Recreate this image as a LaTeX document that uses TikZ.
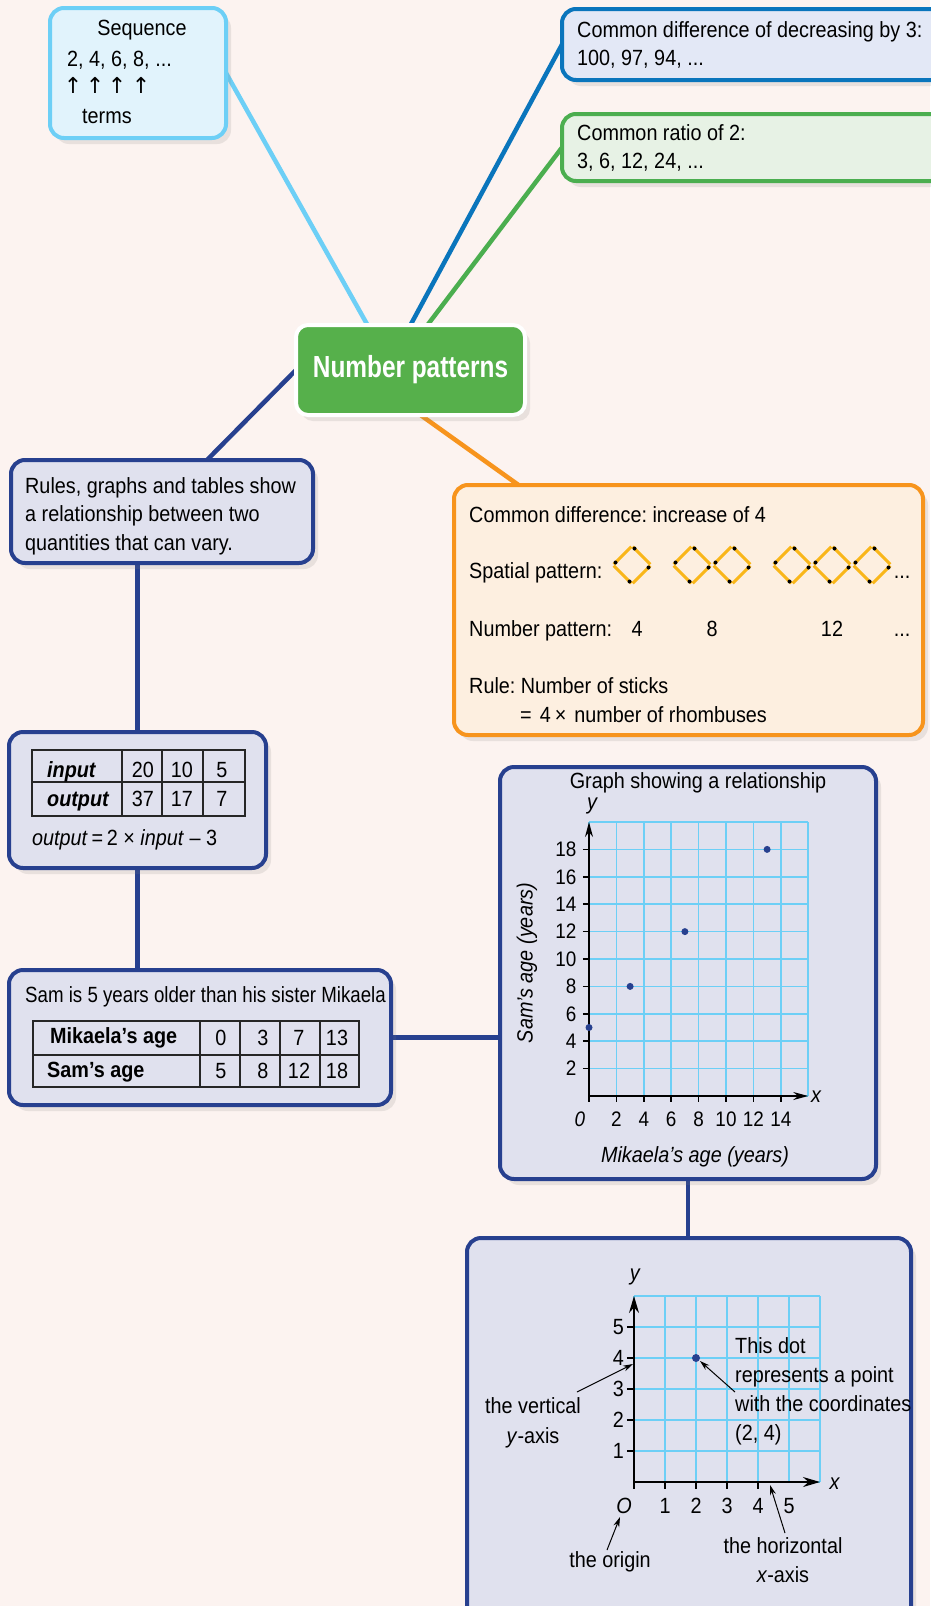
\documentclass[tikz,border=0pt]{standalone}
\usepackage{fontspec}
\setmainfont{Liberation Sans}[FakeStretch=0.9]
\newfontfamily\hubfont{Liberation Sans}[FakeStretch=0.8]
\newfontfamily\arrowfont{DejaVu Sans}
\usetikzlibrary{arrows.meta,positioning,calc,shadows,backgrounds}
\newcommand{\basefont}{\fontsize{22}{28}\selectfont}
\newcommand{\tickfont}{\fontsize{21}{24}\selectfont}
\frenchspacing

\definecolor{bgpink}{HTML}{FCF3F0}
\definecolor{seqblue}{HTML}{6DCFF6}
\definecolor{seqfill}{HTML}{E1F3FC}
\definecolor{diffblue}{HTML}{0A75BC}
\definecolor{difffill}{HTML}{E3E8F6}
\definecolor{ratiogreen}{HTML}{4BAE4F}
\definecolor{ratiofill}{HTML}{E7F2E5}
\definecolor{hubgreen}{HTML}{56B04B}
\definecolor{navy}{HTML}{27408F}
\definecolor{navyfill}{HTML}{E0E1EE}
\definecolor{orange}{HTML}{F7941D}
\definecolor{orangefill}{HTML}{FDEFE0}
\definecolor{stickyellow}{HTML}{F9B61A}

\begin{document}
\begin{tikzpicture}[
  x=1pt, y=-1pt,
  font=\basefont,
  panel/.style={draw, line width=4pt, rounded corners=14pt, anchor=north west,
                inner sep=0pt, outer sep=0pt,
                drop shadow={opacity=0.16, shadow xshift=5pt, shadow yshift=-6pt}},
  hub/.style={fill=hubgreen, draw=white, line width=4pt, rounded corners=12pt,
              minimum width=229pt, minimum height=90pt, outer sep=0pt, text=white,
              font=\hubfont\bfseries\fontsize{30.5}{36}\selectfont,
              drop shadow={opacity=0.16, shadow xshift=5pt, shadow yshift=-6pt}},
  txt/.style={anchor=base west, inner sep=0pt},
  ctxt/.style={anchor=base, inner sep=0pt},
  link/.style={line width=4.5pt},
  tbl/.style={line width=1.2pt, black!85},
  stick/.style={stickyellow, line width=3pt, shorten <=1pt, shorten >=1pt},
  gridline/.style={seqblue, line width=1.6pt},
  axis/.style={black, line width=1.5pt},
  tick/.style={black, line width=1.5pt},
  note/.style={-{Stealth[length=10pt,width=6pt]}, line width=1pt}
]
\useasboundingbox (0,0) rectangle (930,1606);
\begin{scope}[on background layer]
  \fill[bgpink] (0,0) rectangle (930,1606);
\end{scope}

% boxes
\node[panel, draw=seqblue, fill=seqfill, minimum width=176pt, minimum height=130pt] (seq) at (50,8) {};
\node[panel, draw=diffblue, fill=difffill, minimum width=390pt, minimum height=71pt] (diff) at (562,9) {};
\node[panel, draw=ratiogreen, fill=ratiofill, minimum width=390pt, minimum height=67pt] (ratio) at (562,114) {};
\node[hub] (hub) at (410.5,370) {Number patterns};
\node[panel, draw=navy, fill=navyfill, minimum width=302pt, minimum height=103pt] (rules) at (11,460) {};
\node[panel, draw=orange, fill=orangefill, minimum width=469pt, minimum height=250pt] (sticks) at (454,485) {};
\node[panel, draw=navy, fill=navyfill, minimum width=257pt, minimum height=136pt] (io) at (9,732) {};
\node[panel, draw=navy, fill=navyfill, minimum width=382pt, minimum height=135pt] (sam) at (9,970) {};
\node[panel, draw=navy, fill=navyfill, minimum width=376pt, minimum height=412pt] (graph) at (500,767) {};
\node[panel, draw=navy, fill=navyfill, minimum width=444pt, minimum height=420pt] (axes) at (467,1238) {};

% connectors
\begin{scope}[on background layer]
  \draw[link, seqblue] (seq.east) -- ([xshift=-43pt]hub.north);
  \draw[link, diffblue] (diff.west) -- (hub.north);
  \draw[link, ratiogreen] (ratio.west) -- ([xshift=17pt]hub.north);
  \draw[link, navy] (hub.west) -- ([xshift=45pt]rules.north);
  \draw[link, orange] ([xshift=10pt]hub.south) -- ([xshift=-170pt]sticks.north);
  \draw[link, navy] (io.north |- rules.south) -- (io.north);
  \draw[link, navy] (io.south) -- (io.south |- sam.north);
  \draw[link, navy] (sam.east) -- (sam.east -| graph.west);
  \draw[link, navy] (graph.south) -- (graph.south |- axes.north);
\end{scope}

% sequence
\node[ctxt] (seqtitle) at (142,35) {Sequence};
\node[txt] (seqnums) at (67,66) {2, 4, 6, 8, ...};
\foreach \ax [count=\i] in {73,95,117,141}
  \node[ctxt, font=\arrowfont\fontsize{22}{26}\selectfont] (up\i) at (\ax,93) {↑};
\node[txt] (terms) at (82,123) {terms};

% differences and ratio
\node[txt] (diff1) at (577,37) {Common difference of decreasing by 3:};
\node[txt] (diff2) at (577,65) {100, 97, 94, ...};
\node[txt] (ratio1) at (577,140) {Common ratio of 2:};
\node[txt] (ratio2) at (577,168) {3, 6, 12, 24, ...};

% rules
\node[txt] (rules1) at (25,493) {Rules, graphs and tables show};
\node[txt] (rules2) at (25,521) {a relationship between two};
\node[txt] (rules3) at (25,550) {quantities that can vary.};

% sticks
\node[txt] (common) at (469,522) {Common difference: increase of 4};
\node[txt] (spatial) at (469,578) {Spatial pattern:};
\foreach \cx in {632,692,732,792,832,872}{
  \draw[stick] (\cx,546) -- (\cx+19,565);
  \draw[stick] (\cx+19,565) -- (\cx,584);
  \draw[stick] (\cx,584) -- (\cx-19,565);
  \draw[stick] (\cx-19,565) -- (\cx,546);
  \fill (\cx+2.5,548.5) circle (2pt) (\cx+16.5,567.5) circle (2pt)
        (\cx-2.5,581.5) circle (2pt) (\cx-16.5,562.5) circle (2pt);
}
\node[ctxt] (spdots) at (902,578) {...};
\node[txt] (numpat) at (469,636) {Number pattern:};
\foreach \nx/\nv [count=\i] in {637/4,712/8,832/12}
  \node[ctxt] (np\i) at (\nx,636) {\nv};
\node[ctxt] (npdots) at (902,636) {...};
\node[txt] (rule1) at (469,693) {Rule: Number of sticks};
\node[txt] (rule2) at (520,722) {=\hspace{8pt}4\hspace{4pt}×\hspace{8pt}number of rhombuses};

% input output table
\draw[tbl] (32,750) rectangle (245,816);
\draw[tbl] (32,782) -- (245,782);
\foreach \tx in {122,162,203} \draw[tbl] (\tx,750) -- (\tx,816);
\node[txt, font=\basefont\bfseries\itshape] (inlbl) at (47,777) {input};
\node[txt, font=\basefont\bfseries\itshape] (outlbl) at (47,806) {output};
\foreach \tx/\a/\b [count=\i] in {143/20/37,182/10/17,222/5/7}{
  \node[ctxt] (in\i) at (\tx,777) {\a};
  \node[ctxt] (out\i) at (\tx,806) {\b};
}
\node[txt] (formula) at (32,845) {\textit{output}\,=\,2 × \textit{input} – 3};

% ages table
\node[txt] (samtitle) at (25,1002) {\addfontfeature{FakeStretch=0.85}Sam is 5 years older than his sister Mikaela};
\draw[tbl] (33,1021) rectangle (359,1087);
\draw[tbl] (33,1055) -- (359,1055);
\foreach \tx in {200,240,280,320} \draw[tbl] (\tx,1021) -- (\tx,1087);
\node[txt, font=\basefont\bfseries] (mikrow) at (50,1043) {Mikaela’s age};
\node[txt, font=\basefont\bfseries] (samrow) at (47,1077) {Sam’s age};
\foreach \tx/\a/\b [count=\i] in {221/0/5,263/3/8,299/7/12,337/13/18}{
  \node[ctxt] (mik\i) at (\tx,1045) {\a};
  \node[ctxt] (sam\i) at (\tx,1078) {\b};
}

% graph of ages
\node[ctxt] (graphtitle) at (698,788) {Graph showing a relationship};
\begin{scope}[shift={(589,1096)}, x=13.7pt, y=13.7pt]
  \foreach \g in {0,2,...,16} \draw[gridline] (\g,0) -- (\g,20);
  \foreach \g in {0,2,...,20} \draw[gridline] (0,\g) -- (16,\g);
  \draw[axis, -{Stealth[length=15pt,width=8pt]}] (0,0) -- (16,0);
  \draw[axis, -{Stealth[length=15pt,width=8pt]}] (0,0) -- (0,20);
  \foreach \v in {2,4,...,18}{
    \draw[tick] (-0.45,\v) -- (0,\v);
    \node[anchor=east, inner sep=0pt, font=\tickfont] (yl\v) at (-0.9,\v) {\v};
  }
  \foreach \v in {0,2,...,14}
    \draw[tick] (\v,0) -- (\v,-0.45);
  \foreach \v in {2,4,...,14}
    \node[ctxt, font=\tickfont] (xl\v) at (\v,-2.26) {\v};
  \node[ctxt, font=\tickfont\itshape] (xl0) at (-0.66,-2.26) {0};
  \node[ctxt, font=\basefont\itshape] (ylbl) at (0.22,20.9) {y};
  \node[txt, font=\basefont\itshape] (xlbl) at (16.2,-0.44) {x};
  \foreach \px/\py [count=\i] in {0/5,3/8,7/12,13/18}
    \fill[navy] (\px,\py) circle (3.5pt);
\end{scope}
\node[ctxt, font=\basefont\itshape] (xname) at (695,1162) {Mikaela’s age (years)};
\node[rotate=90, inner sep=0pt, font=\basefont\itshape] (yname) at (527,963) {Sam’s age (years)};

% axes explained
\begin{scope}[shift={(634,1482)}, x=31pt, y=31pt]
  \foreach \g in {0,...,6}{
    \draw[gridline] (\g,0) -- (\g,6);
    \draw[gridline] (0,\g) -- (6,\g);
  }
  \draw[axis, -{Stealth[length=17pt,width=10pt]}] (0,0) -- (6,0);
  \draw[axis, -{Stealth[length=17pt,width=10pt]}] (0,0) -- (0,6);
  \foreach \v in {1,...,5}{
    \draw[tick] (-0.23,\v) -- (0,\v);
    \node[anchor=east, inner sep=0pt] (by\v) at (-0.32,\v) {\v};
    \node[ctxt] (bx\v) at (\v,-1.0) {\v};
  }
  \foreach \v in {0,...,4}
    \draw[tick] (\v,0) -- (\v,-0.23);
  \node[ctxt, font=\basefont\itshape] (origin) at (-0.32,-1.0) {O};
  \node[ctxt, font=\basefont\itshape] (by) at (0.03,6.5) {y};
  \node[txt, font=\basefont\itshape] (bx) at (6.3,-0.23) {x};
  \fill[navy] (2,4) circle (4pt);
  \coordinate (dotpt) at (2,4);
\end{scope}
\node[txt] (dot1) at (735,1353) {This dot};
\node[txt] (dot2) at (735,1382) {represents a point};
\node[txt] (dot3) at (735,1411) {with the coordinates};
\node[txt] (dot4) at (735,1440) {(2, 4)};
\node[ctxt] (vert1) at (533,1413) {the vertical};
\node[ctxt] (vert2) at (533,1443) {\textit{y}-axis};
\node[ctxt] (orig1) at (610,1567) {the origin};
\node[ctxt] (hor1) at (783,1553) {the horizontal};
\node[ctxt] (hor2) at (783,1582) {\textit{x}-axis};
\coordinate (dottail) at (735,1392);
\coordinate (verttail) at (577,1392);
\coordinate (verthead) at (633,1364);
\coordinate (origtail) at (607,1550);
\coordinate (orighead) at (620,1517);
\coordinate (hortail) at (785,1533);
\coordinate (horhead) at (770,1485);
\draw[note] (dottail) -- ([shift={(4pt,-3pt)}]dotpt);
\draw[note] (verttail) -- (verthead);
\draw[note] (origtail) -- (orighead);
\draw[note] (hortail) -- (horhead);
\end{tikzpicture}
\end{document}
